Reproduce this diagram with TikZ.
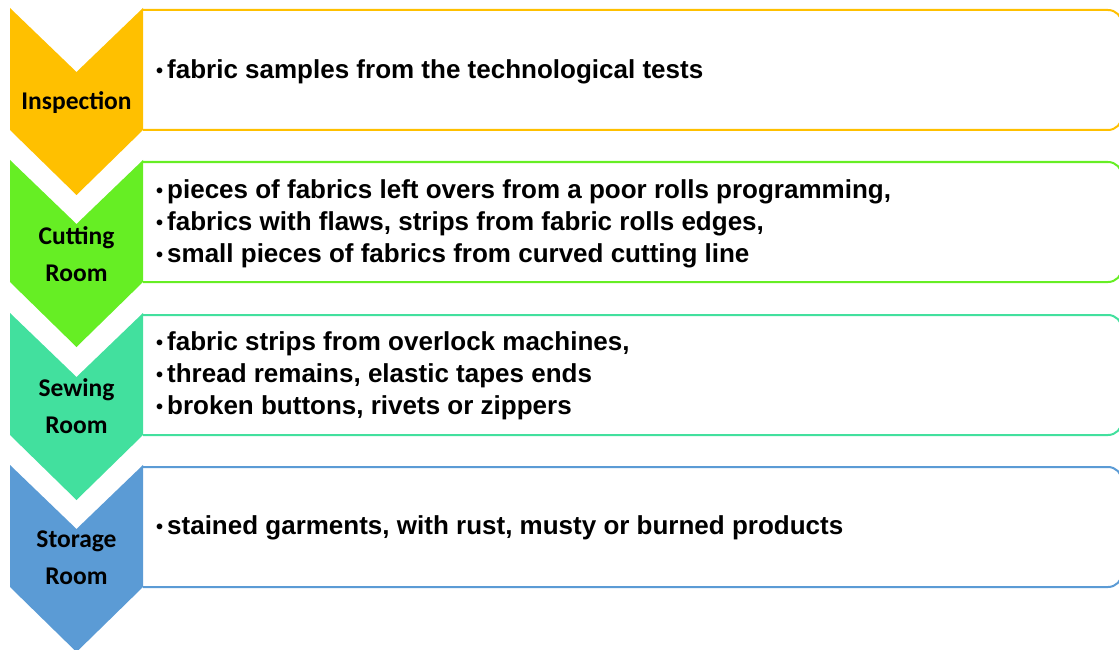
\documentclass[tikz,border=0pt]{standalone}
\usepackage{fontspec}
\setmainfont{Liberation Sans}
\newfontfamily\labelfont{Carlito}
\begin{document}
\begin{tikzpicture}[x={(1pt,0)},y={(0,-1pt)},
  chev/.style={fill=#1,draw=none},
  itembox/.style={draw=#1,line width=2pt},
  stagelabel/.style={font=\labelfont\bfseries\fontsize{25.5}{37}\selectfont,align=center,text=black,inner sep=0pt},
  itemtext/.style={font=\bfseries\fontsize{26}{32}\selectfont,align=left,anchor=west,inner sep=0pt,text=black}]
\definecolor{cInsp}{RGB}{255,192,0}
\definecolor{cCut}{RGB}{102,238,36}
\definecolor{cSew}{RGB}{66,224,158}
\definecolor{cStore}{RGB}{91,155,213}
\newcommand{\bul}{\makebox[12pt][l]{\hspace{1pt}\raisebox{0.8pt}{\fontsize{20}{20}\selectfont•}}}
\useasboundingbox (0,0) rectangle (1119,650);
\begin{scope}
\clip (0,0) rectangle (1119,650);
% four stages: top offset t, colour
\foreach \t/\c/\n in {8/cInsp/1,160/cCut/2,313/cSew/3,465/cStore/4}{
  \draw[itembox=\c] (143,\t+2) [rounded corners=14pt] -- (1122,\t+2) -- (1122,\t+122) [sharp corners] -- (143,\t+122);
  \fill[chev=\c] (10,\t) -- (76.5,\t+64) -- (143,\t) -- (143,\t+122) -- (76.5,\t+187) -- (10,\t+122) -- cycle;
}
\end{scope}
\node[stagelabel] (s1) at (76.5,103) {Inspection};
\node[stagelabel] (s2) at (76.5,254) {Cutting\\Room};
\node[stagelabel] (s3) at (76.5,406) {Sewing\\Room};
\node[stagelabel] (s4) at (76.5,558) {Storage\\Room};
\node[itemtext] (t1) at (155,72) {\bul fabric samples from the technological tests};
\node[itemtext] (t2) at (155,224) {\bul pieces of fabrics left overs from a poor rolls programming,\\\bul fabrics with flaws, strips from fabric rolls edges,\\\bul small pieces of fabrics from curved cutting line};
\node[itemtext] (t3) at (155,376) {\bul fabric strips from overlock machines,\\\bul thread remains, elastic tapes ends\\\bul broken buttons, rivets or zippers};
\node[itemtext] (t4) at (155,528) {\bul stained garments, with rust, musty or burned products};
\end{tikzpicture}
\end{document}
